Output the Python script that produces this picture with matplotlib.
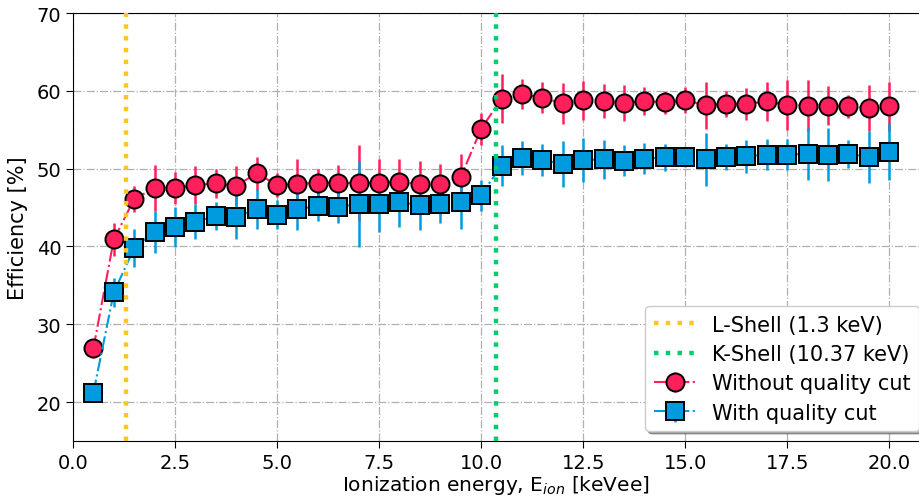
import matplotlib
matplotlib.use("Agg")
import matplotlib.pyplot as plt
import numpy as np

energy = [0.5, 1.0, 1.5, 2.0, 2.5, 3.0, 3.5, 4.0, 4.5, 5.0,
          5.5, 6.0, 6.5, 7.0, 7.5, 8.0, 8.5, 9.0, 9.5, 10.0,
          10.5, 11.0, 11.5, 12.0, 12.5, 13.0, 13.5, 14.0, 14.5, 15.0,
          15.5, 16.0, 16.5, 17.0, 17.5, 18.0, 18.5, 19.0, 19.5, 20.0]

eff_nocut = [26.9, 40.9, 46.1, 47.5, 47.5, 47.9, 48.1, 47.8, 49.4, 47.9,
             48.0, 48.2, 48.1, 48.2, 48.1, 48.3, 48.0, 48.0, 48.9, 55.1,
             59.0, 59.6, 59.1, 58.4, 58.8, 58.65, 58.4, 58.7, 58.5, 58.8,
             58.15, 58.3, 58.3, 58.65, 58.2, 58.1, 58.1, 58.0, 57.8, 58.0]
err_nocut = [1.2, 2.1, 1.7, 3.0, 2.1, 2.4, 1.9, 2.5, 2.1, 1.6,
             3.3, 1.7, 2.4, 4.9, 3.1, 2.9, 3.0, 2.6, 3.0, 2.0,
             3.1, 1.9, 2.0, 2.6, 2.5, 2.2, 2.3, 1.8, 1.5, 1.7,
             3.0, 1.7, 2.0, 2.5, 3.2, 3.3, 2.5, 1.5, 2.9, 3.1]

eff_cut = [21.2, 34.1, 39.8, 41.9, 42.5, 43.2, 43.9, 43.8, 44.8, 44.1,
           44.8, 45.2, 45.1, 45.45, 45.45, 45.7, 45.3, 45.4, 45.75, 46.6,
           50.4, 51.4, 51.1, 50.6, 51.1, 51.2, 51.0, 51.3, 51.45, 51.5,
           51.2, 51.5, 51.6, 51.8, 51.8, 51.9, 51.8, 51.9, 51.5, 52.2]
err_cut = [1.0, 1.9, 2.5, 2.7, 2.6, 2.2, 1.8, 2.8, 2.6, 1.9,
           2.7, 1.9, 2.1, 5.5, 3.6, 3.2, 3.2, 2.4, 3.5, 2.0,
           2.6, 2.2, 2.1, 2.9, 2.8, 2.5, 2.0, 2.0, 1.7, 1.3,
           3.4, 1.7, 2.1, 2.0, 2.0, 3.3, 3.4, 1.8, 3.4, 3.7]

shells = [1.3, 10.37]
shell_labels = ["L-Shell (1.3 keV)", "K-Shell (10.37 keV)"]
shell_colors = ["#ffc61e", "#00cd6c"]

red = "#ff1f5b"
blue = "#009ade"

fig = plt.figure(figsize=(9.19, 5.02), dpi=100)
ax = fig.add_axes([73/919, 1 - 442/502, 1 - 73/919, (442 - 14)/502])

ax.grid(True, linestyle="-.", color="#b0b0b0", linewidth=0.9, zorder=0)
ax.set_axisbelow(True)

for xv, lab, c in zip(shells, shell_labels, shell_colors):
    ax.axvline(xv, color=c, linestyle=":", linewidth=3.2, label=lab, zorder=4)

ax.errorbar(energy, eff_nocut, yerr=err_nocut, fmt="o", ls="-.", color=red,
            ecolor=red, elinewidth=1.8, lw=1.5, markersize=13,
            markerfacecolor=red, markeredgecolor="black", markeredgewidth=1.4,
            label="Without quality cut", zorder=3)
ax.errorbar(energy, eff_cut, yerr=err_cut, fmt="s", ls="-.", color=blue,
            ecolor=blue, elinewidth=1.8, lw=1.5, markersize=13,
            markerfacecolor=blue, markeredgecolor="black", markeredgewidth=1.4,
            label="With quality cut", zorder=3)

ax.set_xlim(0, 20.73)
ax.set_ylim(15, 70)
ax.set_xticks([0, 2.5, 5, 7.5, 10, 12.5, 15, 17.5, 20])
ax.set_yticks([20, 30, 40, 50, 60, 70])
ax.tick_params(labelsize=14, length=5)
ax.spines["right"].set_visible(False)

ax.set_xlabel("Ionization energy, E$_{ion}$ [keVee]", fontsize=14.5, labelpad=1)
ax.set_ylabel("Efficiency [%]", fontsize=15, labelpad=6)

ax.legend(loc="lower right", bbox_to_anchor=(1.0, 10.0/428), borderaxespad=0,
          fontsize=15, shadow=True, framealpha=1,
          borderpad=0.4, handlelength=2.0, labelspacing=0.45)

fig.savefig("out.png", dpi=100)
